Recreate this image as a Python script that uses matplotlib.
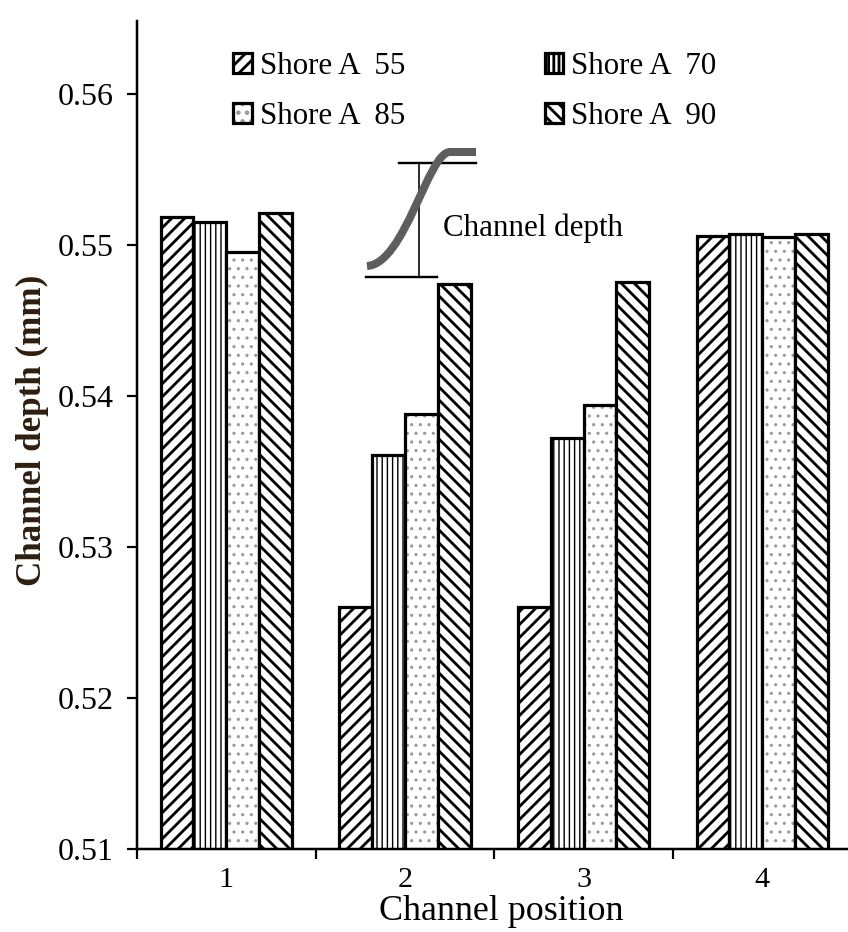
import numpy as np
import matplotlib
matplotlib.use('Agg')
import matplotlib.pyplot as plt
from matplotlib.path import Path
from matplotlib.patches import PathPatch

# data
positions = [1, 2, 3, 4]
series = ['Shore A  55', 'Shore A  70', 'Shore A  85', 'Shore A  90']
shore55 = [0.5518, 0.5260, 0.5260, 0.5506]
shore70 = [0.5515, 0.5361, 0.5372, 0.5507]
shore85 = [0.5495, 0.5388, 0.5394, 0.5505]
shore90 = [0.5521, 0.5474, 0.5475, 0.5507]
yticks = [0.51, 0.52, 0.53, 0.54, 0.55, 0.56]

W, H, DPI = 848, 932, 156


def pt(px):
    return px * 72 / DPI


def fx(x):
    return x / W


def fy(y):
    return 1 - y / H


def hatch_lw(bars, px):
    for b in bars:
        if hasattr(b, 'set_hatch_linewidth'):
            b.set_hatch_linewidth(pt(px))


plt.rcParams['font.family'] = ['Liberation Serif', 'DejaVu Serif']
plt.rcParams['hatch.linewidth'] = pt(2.8)

fig = plt.figure(figsize=(W / DPI, H / DPI), dpi=DPI)
ax = fig.add_axes([fx(137), fy(849), 1 - fx(137), fy(21) - fy(849)])

bw = 0.184
x = np.array(positions)
offs = np.array([-1.5, -0.5, 0.5, 1.5]) * bw
elw = pt(3.2)

b55 = ax.bar(x + offs[0], shore55, bw, color='white', edgecolor='black', hatch='////', lw=elw)
hatch_lw(b55, 2.8)
b70 = ax.bar(x + offs[1], shore70, bw, color='white', edgecolor='black', hatch='|||||', lw=elw)
hatch_lw(b70, 1.4)
b85h = ax.bar(x + offs[2], shore85, bw, color='white', edgecolor='#9a9a9a', hatch='...', lw=0)
hatch_lw(b85h, 1.5)
b85 = ax.bar(x + offs[2], shore85, bw, color='none', edgecolor='black', lw=elw)
b90 = ax.bar(x + offs[3], shore90, bw, color='white', edgecolor='black', hatch='\\\\\\\\', lw=elw)
hatch_lw(b90, 2.8)

ax.set_ylim(0.51, 0.5648)
ax.set_xlim(0.5, 4.48)
ax.set_yticks(yticks)
ax.set_yticklabels(['%.2f' % v for v in yticks])
ax.set_xticks([0.5, 1.5, 2.5, 3.5])
ax.set_xticklabels([])
ax.set_xticks(positions, minor=True)
ax.set_xticklabels([str(p) for p in positions], minor=True)

ax.tick_params(axis='y', direction='out', length=pt(10), width=pt(2.2), pad=pt(13), labelsize=pt(32))
ax.tick_params(axis='x', which='major', direction='out', length=pt(10), width=pt(2.2))
ax.tick_params(axis='x', which='minor', length=0, pad=pt(18), labelsize=pt(30))

for s in ['top', 'right']:
    ax.spines[s].set_visible(False)
for s in ['left', 'bottom']:
    ax.spines[s].set_linewidth(pt(2.5))

fig.text(fx(501), fy(911), 'Channel position', ha='center', va='center', fontsize=pt(36))
fig.text(fx(32), fy(430), 'Channel depth (mm)', ha='center', va='center', rotation=90,
         fontsize=pt(35), fontweight='bold', color='#2e1e10')

# legend, filled row by row
leg = ax.legend([b55, (b85h, b85), b70, b90], [series[0], series[2], series[1], series[3]], ncol=2,
                loc='upper left', bbox_to_anchor=(fx(233), fy(52)), bbox_transform=fig.transFigure,
                frameon=False, fontsize=pt(31), handlelength=0.6, handleheight=0.6,
                handletextpad=0.26, columnspacing=4.5, labelspacing=0.68, borderpad=0, borderaxespad=0)

# inset sketch of channel depth
verts = [(367, 266), (405, 264), (428, 152), (450, 152), (476, 152)]
verts = [(fx(a), fy(b)) for a, b in verts]
codes = [Path.MOVETO, Path.CURVE4, Path.CURVE4, Path.CURVE4, Path.LINETO]
fig.add_artist(PathPatch(Path(verts, codes), facecolor='none', edgecolor='#5e5e5e',
                         lw=pt(8), transform=fig.transFigure))
ax.plot([fx(399), fx(476)], [fy(163), fy(163)], color='black', lw=pt(2.4), transform=fig.transFigure, clip_on=False)
ax.plot([fx(366), fx(437)], [fy(277), fy(277)], color='black', lw=pt(2.4), transform=fig.transFigure, clip_on=False)
ax.plot([fx(419), fx(419)], [fy(163), fy(277)], color='black', lw=pt(1.6), transform=fig.transFigure, clip_on=False)
fig.text(fx(443), fy(228), 'Channel depth', ha='left', va='center', fontsize=pt(31))

fig.savefig('out.png', dpi=DPI)
